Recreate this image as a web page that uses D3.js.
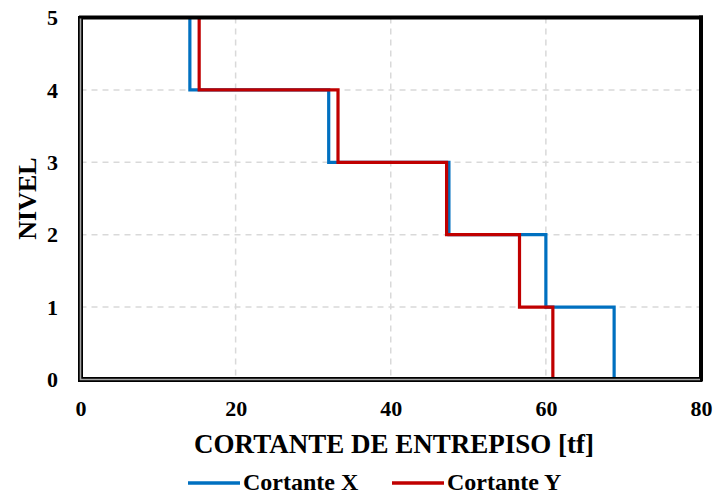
<!DOCTYPE html>
<html>
<head>
<meta charset="utf-8">
<script src="https://cdn.jsdelivr.net/npm/d3@7/dist/d3.min.js"></script>
<style>
  html, body { margin: 0; padding: 0; background: #fff; }
  svg { display: block; }
  svg text { font-family: "Liberation Serif", "DejaVu Serif", "Noto Serif", serif; font-weight: bold; fill: #000; }
</style>
</head>
<body>
<svg id="chart" width="716" height="496"></svg>
<script>
// Storey shear per level band (band i spans level i to level i+1)
const levels = [0, 1, 2, 3, 4, 5];
const cortanteX = [68.8, 60.0, 47.5, 32.0, 14.1];
const cortanteY = [60.9, 56.6, 47.2, 33.2, 15.3];
const xTicks = [0, 20, 40, 60, 80];
const yTicks = [0, 1, 2, 3, 4, 5];
const seriesNames = ["Cortante X", "Cortante Y"];
const seriesColors = ["#0070C0", "#C00000"];

const FONT = "'Liberation Serif', 'DejaVu Serif', 'Noto Serif', serif";
const svg = d3.select("#chart");
const plot = { left: 80.5, right: 701, top: 17.5, bottom: 379.5 };

const x = d3.scaleLinear().domain([0, 80]).range([plot.left, plot.right]);
const y = d3.scaleLinear().domain([0, 5]).range([plot.bottom, plot.top]);

// Dashed gridlines
const grid = svg.append("g");
grid.selectAll("line.gx").data(xTicks.slice(1, -1)).join("line")
  .attr("x1", d => x(d)).attr("x2", d => x(d))
  .attr("y1", plot.top).attr("y2", plot.bottom)
  .attr("stroke", "#d9d9d9").attr("stroke-width", 1.5).attr("stroke-dasharray", "6,5");
grid.selectAll("line.gy").data(yTicks.slice(1, -1)).join("line")
  .attr("x1", plot.left).attr("x2", plot.right)
  .attr("y1", d => y(d)).attr("y2", d => y(d))
  .attr("stroke", "#d9d9d9").attr("stroke-width", 1.5).attr("stroke-dasharray", "6,5");

// Step profile: vertical run through each band, horizontal jump at each level
function stepPoints(vals) {
  const pts = [];
  vals.forEach((v, i) => {
    pts.push([v, levels[i]]);
    pts.push([v, levels[i + 1]]);
  });
  return pts;
}
const line = d3.line().x(d => x(d[0])).y(d => y(d[1]));

[cortanteX, cortanteY].forEach((vals, i) => {
  svg.append("path")
    .attr("d", line(stepPoints(vals)))
    .attr("fill", "none")
    .attr("stroke", seriesColors[i])
    .attr("stroke-width", 3.2)
    .attr("stroke-linejoin", "miter")
    .attr("stroke-linecap", "butt");
});

// Frame: heavy top/right, double rule on left/bottom
const frame = svg.append("g");
frame.append("line").attr("x1", plot.left - 1.5).attr("x2", plot.right + 2)
  .attr("y1", plot.top).attr("y2", plot.top).attr("stroke", "#000").attr("stroke-width", 4);
frame.append("line").attr("x1", plot.right).attr("x2", plot.right)
  .attr("y1", plot.top - 2).attr("y2", plot.bottom + 2).attr("stroke", "#000").attr("stroke-width", 4);
frame.append("path")
  .attr("d", `M${plot.left},${plot.top - 1.5} L${plot.left},${plot.bottom} L${plot.right + 1},${plot.bottom}`)
  .attr("fill", "none").attr("stroke", "#000").attr("stroke-width", 5);
frame.append("path")
  .attr("d", `M${plot.left},${plot.top + 1} L${plot.left},${plot.bottom} L${plot.right - 1},${plot.bottom}`)
  .attr("fill", "none").attr("stroke", "#a6a6a6").attr("stroke-width", 1.6);

// Axes (labels only)
const xAxis = d3.axisBottom(x).tickValues(xTicks).tickFormat(d3.format("d")).tickSize(0).tickPadding(0);
const gx = svg.append("g").attr("transform", `translate(0,${plot.bottom})`).call(xAxis);
gx.attr("font-family", FONT).attr("font-size", 22);
gx.select(".domain").remove();
gx.selectAll("text").attr("y", 0).attr("dy", 0)
  .attr("transform", "translate(0,36.5)");

const yAxis = d3.axisLeft(y).tickValues(yTicks).tickFormat(d3.format("d")).tickSize(0).tickPadding(0);
const gy = svg.append("g").attr("transform", `translate(${plot.left - 22.5},0)`).call(yAxis);
gy.attr("font-family", FONT).attr("font-size", 22);
gy.select(".domain").remove();
gy.selectAll("text").attr("x", 0).attr("dy", "0.33em");

// Axis titles
svg.append("text")
  .attr("x", 394).attr("y", 453)
  .attr("text-anchor", "middle").attr("font-size", 27)
  .text("CORTANTE DE ENTREPISO [tf]");
svg.append("text")
  .attr("transform", `translate(35.5,${(plot.top + plot.bottom) / 2}) rotate(-90)`)
  .attr("text-anchor", "middle").attr("font-size", 26)
  .text("NIVEL");

// Legend
const legend = svg.append("g");
const legendItems = [
  { x0: 188, name: seriesNames[0], color: seriesColors[0] },
  { x0: 392, name: seriesNames[1], color: seriesColors[1] }
];
legendItems.forEach(it => {
  legend.append("line").attr("x1", it.x0).attr("x2", it.x0 + 52)
    .attr("y1", 483).attr("y2", 483)
    .attr("stroke", it.color).attr("stroke-width", 3.5);
  legend.append("text").attr("x", it.x0 + 55).attr("y", 490)
    .attr("font-size", 24).text(it.name);
});
</script>
</body>
</html>
